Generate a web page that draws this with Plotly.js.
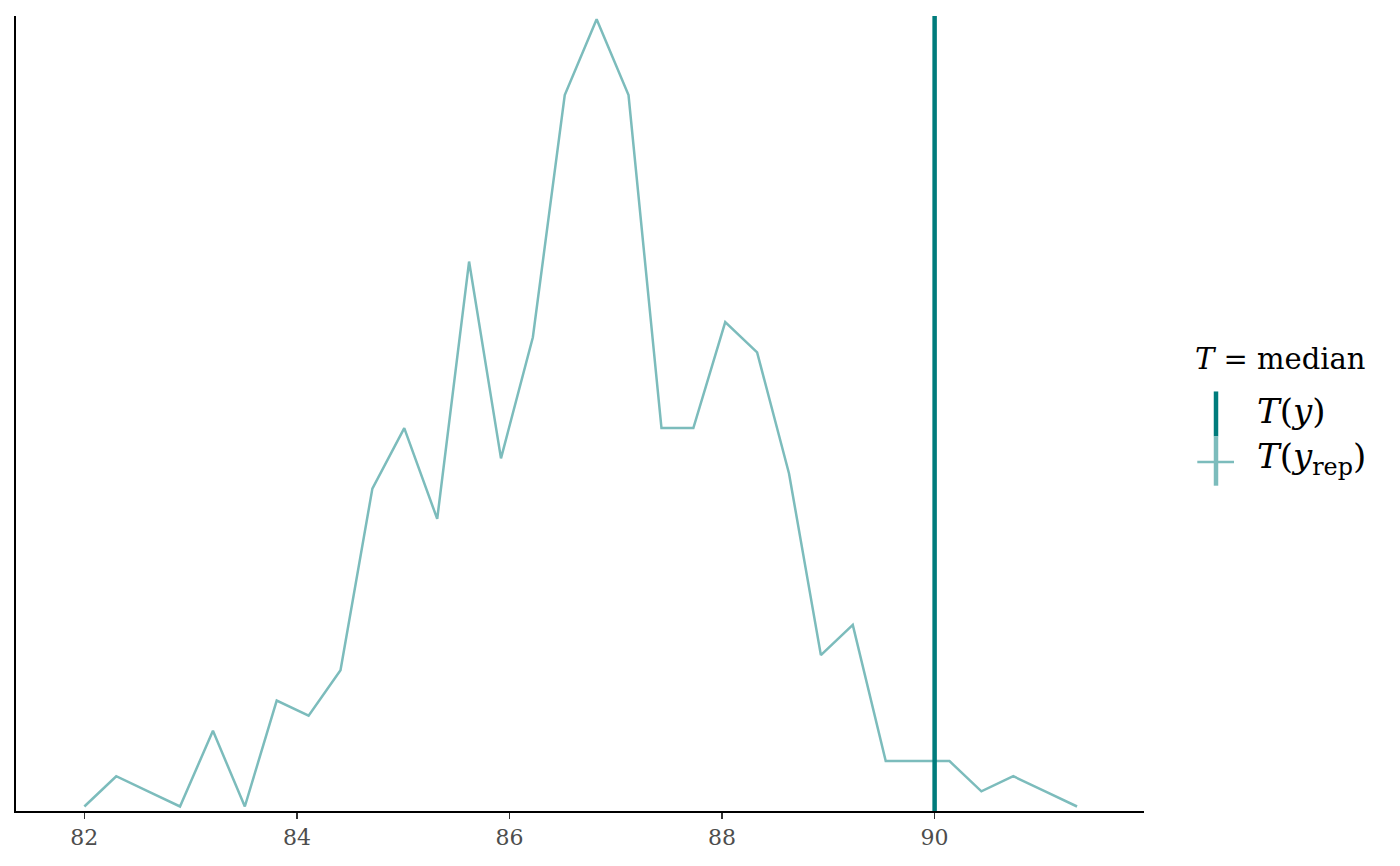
<!DOCTYPE html>
<html>
<head>
<meta charset="utf-8">
<script src="https://cdn.plot.ly/plotly-3.0.1.min.js"></script>
<style>html,body{margin:0;padding:0;background:#fff;}#chart{width:1400px;height:866px;}</style>
</head>
<body>
<div id="chart"></div>
<script>
// Bin centres of replicated medians
const binCenters = [82.00, 82.30, 82.60, 82.90, 83.21, 83.51, 83.81, 84.11, 84.41, 84.71,
  85.01, 85.32, 85.62, 85.92, 86.22, 86.52, 86.82, 87.12, 87.43, 87.73,
  88.03, 88.33, 88.63, 88.93, 89.23, 89.54, 89.84, 90.14, 90.44, 90.74,
  91.04, 91.34];
// Counts per bin
const binCounts = [0, 2, 1, 0, 5, 0, 7, 6, 9, 21,
  25, 19, 36, 23, 31, 47, 52, 47, 25, 25,
  32, 30, 22, 10, 12, 3, 3, 3, 1, 2,
  1, 0];
// Observed statistic T(y)
const observedT = 90;
const xTicks = [82, 84, 86, 88, 90];
const xTickLabels = ['82', '84', '86', '88', '90'];

const lightCol = '#7cbcbc';
const darkCol = '#007c7c';
const fontFam = 'DejaVu Serif, Liberation Serif, serif';

const traces = [{
  type: 'scatter', mode: 'lines',
  x: binCenters, y: binCounts,
  line: {color: lightCol, width: 2.5},
  showlegend: false, hoverinfo: 'x+y'
}];

// legend drawn with paper-referenced shapes/annotations
const plotL = 16, plotR = 1144, plotT = 16, plotB = 811.5;
const px2x = p => (p - plotL) / (plotR - plotL);
const px2y = p => (plotB - p) / (plotB - plotT);

const layout = {
  width: 1400, height: 866,
  margin: {l: plotL, r: 1400 - plotR, t: plotT, b: 866 - plotB, pad: 0},
  paper_bgcolor: '#fff', plot_bgcolor: '#fff',
  font: {family: fontFam, color: '#000'},
  showlegend: false,
  xaxis: {
    range: [81.357, 91.97],
    tickvals: xTicks, ticktext: xTickLabels,
    ticks: 'outside', ticklen: 6, tickwidth: 1.2, tickcolor: '#333',
    tickfont: {family: fontFam, size: 22, color: '#4d4d4d'},
    showgrid: false, zeroline: false,
    showline: true, linecolor: '#000', linewidth: 1.8
  },
  yaxis: {
    range: [-0.297, 52.22],
    showticklabels: false, ticks: '',
    showgrid: false, zeroline: false,
    showline: true, linecolor: '#000', linewidth: 1.8
  },
  shapes: [
    {type: 'line', xref: 'x', yref: 'paper', x0: observedT, x1: observedT, y0: 0, y1: 1,
     line: {color: darkCol, width: 4.5}},
    {type: 'line', xref: 'paper', yref: 'paper', x0: px2x(1216), x1: px2x(1216), y0: px2y(391.7), y1: px2y(436.7),
     line: {color: darkCol, width: 4.5}},
    {type: 'line', xref: 'paper', yref: 'paper', x0: px2x(1216), x1: px2x(1216), y0: px2y(436.7), y1: px2y(486),
     line: {color: lightCol, width: 4.5}},
    {type: 'line', xref: 'paper', yref: 'paper', x0: px2x(1197.3), x1: px2x(1234), y0: px2y(462.3), y1: px2y(462.3),
     line: {color: lightCol, width: 2.5}}
  ],
  annotations: [
    {xref: 'paper', yref: 'paper', x: px2x(1193), y: px2y(359), xanchor: 'left', yanchor: 'middle',
     text: '<i>T</i> = median', showarrow: false, font: {family: fontFam, size: 29, color: '#000'}},
    {xref: 'paper', yref: 'paper', x: px2x(1255), y: px2y(411), xanchor: 'left', yanchor: 'middle',
     text: '<i>T</i>(<i>y</i>)', showarrow: false, font: {family: fontFam, size: 34, color: '#000'}},
    {xref: 'paper', yref: 'paper', x: px2x(1255), y: px2y(459), xanchor: 'left', yanchor: 'middle',
     text: '<i>T</i>(<i>y</i><sub>rep</sub>)', showarrow: false, font: {family: fontFam, size: 34, color: '#000'}}
  ]
};

Plotly.newPlot('chart', traces, layout, {displayModeBar: false, staticPlot: true});
</script>
</body>
</html>
